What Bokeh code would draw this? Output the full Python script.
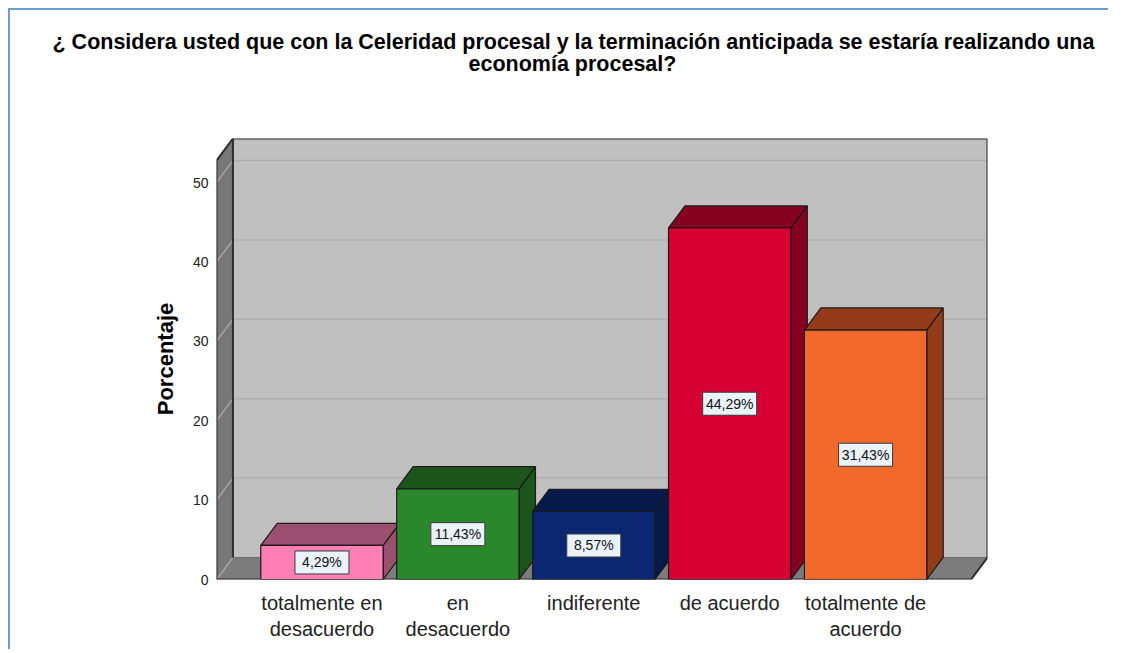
from bokeh.plotting import figure
from bokeh.models import Range1d, FixedTicker, Title, ColumnDataSource
from bokeh.core.properties import value
from bokeh.embed import file_html
from bokeh.resources import INLINE

# ---------------- data ----------------
categories = ["totalmente en\ndesacuerdo", "en\ndesacuerdo", "indiferente",
              "de acuerdo", "totalmente de\nacuerdo"]
percentages = [4.29, 11.43, 8.57, 44.29, 31.43]
front_colors = ["#fe80b4", "#2a872b", "#0b2772", "#d60032", "#f2692c"]
shade_colors = ["#9c506f", "#1c551c", "#07194a", "#860020", "#943c1a"]
y_ticks = [0, 10, 20, 30, 40, 50]
title_line1 = "¿ Considera usted que con la  Celeridad procesal y la  terminación  anticipada se  estaría  realizando una"
title_line2 = "economía procesal?"
y_label = "Porcentaje"

# ---------------- layout constants ----------------
BAR_W = 0.9
DX = 0.121      # depth offset (category units)
DY = 2.78       # depth offset (value units)
X0, X1 = -0.776, 4.776
YMAX = 52.78
FONT = "Liberation Sans"

p = figure(width=1100, height=641, output_backend="svg", toolbar_location=None,
           x_range=Range1d(X0, X1 + DX), y_range=Range1d(0, YMAX + DY),
           min_border_left=206, min_border_top=128, min_border_right=123,
           min_border_bottom=72)
p.styles = {"border-top": "2px solid #6b9bd8", "border-left": "2px solid #6b9bd8",
            "margin-left": "8px", "margin-top": "8px"}
p.outline_line_color = None
p.background_fill_color = "white"
p.border_fill_color = "white"
p.xgrid.visible = False
p.ygrid.visible = False

# ---------------- walls ----------------
p.quad(left=[X0 + DX], right=[X1 + DX], bottom=[DY], top=[YMAX + DY],
       fill_color="#c0c0c0", line_color=None)
gv = [t for t in y_ticks if t > 0]
p.segment(x0=[X0 + DX] * len(gv), y0=[t + DY for t in gv],
          x1=[X1 + DX] * len(gv), y1=[t + DY for t in gv],
          line_color="#b0b0b0", line_width=1.5)
p.patches(xs=[[X0, X0 + DX, X0 + DX, X0], [X0, X1, X1 + DX, X0 + DX]],
          ys=[[0, DY, YMAX + DY, YMAX], [0, 0, DY, DY]],
          fill_color=["#777777", "#7c7c7c"], line_color=None)
p.segment(x0=[X0] * len(gv), y0=gv, x1=[X0 + DX] * len(gv), y1=[t + DY for t in gv],
          line_color="#a4a4a4", line_width=1.5)
p.segment(x0=[X0], y0=[0], x1=[X0 + DX], y1=[DY], line_color="#a4a4a4", line_width=1.5)
p.segment(x0=[X0 + DX], y0=[DY], x1=[X1 + DX], y1=[DY], line_color="#6a6a6a", line_width=1)
p.multi_line(xs=[[X0, X0, X0 + DX, X1 + DX, X1 + DX],
                 [X0 + DX, X0 + DX],
                 [X0, X1, X1 + DX]],
             ys=[[0, YMAX, YMAX + DY, YMAX + DY, DY],
                 [DY, YMAX + DY],
                 [0, 0, DY]],
             line_color="#2e2e2e", line_width=2)

# ---------------- bars ----------------
n = len(percentages)
xc = list(range(n))
lefts = [i - BAR_W / 2 for i in xc]
rights = [i + BAR_W / 2 for i in xc]
side_xs = [[r, r + DX, r + DX, r] for r in rights]
side_ys = [[0, DY, v + DY, v] for v in percentages]
top_xs = [[l, r, r + DX, l + DX] for l, r in zip(lefts, rights)]
top_ys = [[v, v, v + DY, v + DY] for v in percentages]
p.patches(xs=side_xs, ys=side_ys, fill_color=shade_colors, line_color="#1a1a1a", line_width=1.2)
p.patches(xs=top_xs, ys=top_ys, fill_color=shade_colors, line_color="#1a1a1a", line_width=1.2)
p.quad(left=lefts, right=rights, bottom=[0] * n, top=percentages,
       fill_color=front_colors, line_color="#1a1a1a", line_width=1.2)

labels = [f"{v:.2f}".replace(".", ",") + "%" for v in percentages]
src = ColumnDataSource(dict(x=xc, y=[v / 2 for v in percentages], t=labels))
p.rect(x="x", y="y", width=54, height=23, width_units="screen", height_units="screen",
       source=src, fill_color="#eaf3fc", line_color="#3a3a3a", line_width=1)
p.text(x="x", y="y", text="t", source=src, text_align="center", text_baseline="middle",
       text_font=value(FONT), text_font_size="14px", text_color="#111111")

# ---------------- axes ----------------
p.xaxis.ticker = FixedTicker(ticks=xc)
p.xaxis.major_label_overrides = {i: c for i, c in enumerate(categories)}
p.xaxis.axis_line_color = None
p.xaxis.major_tick_line_color = None
p.xaxis.major_tick_out = 0
p.xaxis.major_tick_in = 0
p.xaxis.minor_tick_line_color = None
p.xaxis.major_label_standoff = 12
p.xaxis.major_label_text_font = FONT
p.xaxis.major_label_text_font_size = "20px"
p.xaxis.major_label_text_color = "#222222"

p.yaxis.ticker = FixedTicker(ticks=y_ticks)
p.yaxis.axis_line_color = None
p.yaxis.major_tick_line_color = None
p.yaxis.major_tick_out = 0
p.yaxis.major_tick_in = 0
p.yaxis.minor_tick_line_color = None
p.yaxis.major_label_standoff = 8
p.yaxis.major_label_text_font = FONT
p.yaxis.major_label_text_font_size = "14px"
p.yaxis.major_label_text_color = "#222222"
p.yaxis.axis_label = y_label
p.yaxis.axis_label_text_font = FONT
p.yaxis.axis_label_text_font_style = "bold"
p.yaxis.axis_label_text_font_size = "22px"
p.yaxis.axis_label_text_color = "#000000"
p.yaxis.axis_label_standoff = 12

# ---------------- title ----------------
spacer = Title(text=" ", text_font_size="1px", standoff=60)
t2 = Title(text=title_line2, align="left", offset=252, standoff=0,
           text_font=FONT, text_font_size="21.5px", text_font_style="bold", text_color="#000000")
t1 = Title(text=title_line1, align="left", offset=-164, standoff=-8,
           text_font=FONT, text_font_size="21.5px", text_font_style="bold", text_color="#000000")
p.add_layout(spacer, "above")
p.add_layout(t2, "above")
p.add_layout(t1, "above")

open("out.html", "w").write(file_html(p, INLINE))
